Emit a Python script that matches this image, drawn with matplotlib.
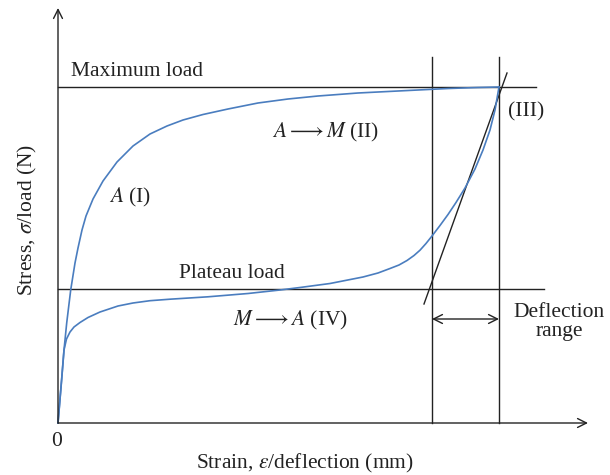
import matplotlib
matplotlib.use("Agg")
import matplotlib.pyplot as plt

plt.rcParams['font.family'] = ['Liberation Serif', 'DejaVu Serif']
plt.rcParams['mathtext.fontset'] = 'stix'

# values (schematic units, origin = 0)
load_x = [0, 3.7, 6, 8.7, 12.7, 17, 20, 24, 28, 35, 45, 59, 75, 92, 109, 125, 145, 170,
          200, 230, 260, 300, 350, 390, 420, 441]
load_y = [0, 44, 73, 100, 133, 160, 175, 193, 207, 224, 242, 261, 277, 289, 297, 303, 308.5, 314,
          320, 324, 327, 330, 332.5, 334.5, 335.5, 336]

unload_x = [441, 437, 432, 425, 417, 407, 398, 390, 382, 374, 368, 362, 356, 349, 341, 332, 320,
            305, 272, 242, 222, 190, 150, 112, 92, 75, 60, 42, 30, 22, 16, 12, 8.5, 6, 3.5, 0]
unload_y = [336, 313, 293, 273, 254, 235, 220.5, 208.5, 197.5, 187, 179.5, 172.8, 167.5, 162.5,
            158, 154.5, 150, 146, 139.5, 135.5, 133, 129.5, 126.2, 123.8, 122.3, 120, 117, 111,
            105.5, 100.5, 96, 91, 84, 73, 42, 0]

max_load = 336
plateau_load = 134
defl_left = 374
defl_right = 441
tangent_x = [366, 449]
tangent_y = [119, 350]

blue = '#4a7dbf'
ink = '#222222'

fig = plt.figure(figsize=(6.1, 4.75), dpi=100)
ax = fig.add_axes([0, 0, 1, 1])
ax.set_xlim(-58, 552)
ax.set_ylim(-52, 423)
ax.axis('off')

# axes with open arrow heads
ax.annotate('', xy=(530, 0), xytext=(0, 0),
            arrowprops=dict(arrowstyle='->', color=ink, lw=1.0, shrinkA=0, shrinkB=0,
                            mutation_scale=16))
ax.annotate('', xy=(0, 415), xytext=(0, 0),
            arrowprops=dict(arrowstyle='->', color=ink, lw=1.0, shrinkA=0, shrinkB=0,
                            mutation_scale=16))

# reference lines
ax.plot([0, 478], [max_load, max_load], color=ink, lw=1.0)
ax.plot([0, 486], [plateau_load, plateau_load], color=ink, lw=1.0)
ax.plot([defl_left, defl_left], [0, 366], color=ink, lw=1.0)
ax.plot([defl_right, defl_right], [0, 366], color=ink, lw=1.0)
ax.plot(tangent_x, tangent_y, color=ink, lw=1.0)

# curves
ax.plot(load_x, load_y, color=blue, lw=1.2, solid_joinstyle='round')
ax.plot(unload_x, unload_y, color=blue, lw=1.2, solid_joinstyle='round')

# deflection range arrow
ax.annotate('', xy=(defl_left, 104), xytext=(defl_right, 104),
            arrowprops=dict(arrowstyle='<->', color=ink, lw=1.0, shrinkA=0, shrinkB=0,
                            mutation_scale=16))

fs = 15.5
ax.text(12.7, 351, 'Maximum load', fontsize=fs, color=ink, ha='left', va='center')
ax.text(121, 150, 'Plateau load', fontsize=fs, color=ink, ha='left', va='center')
ax.text(72, 226, r'$A$ (I)', fontsize=fs, color=ink, ha='center', va='center')
ax.text(267, 291, r'$A \longrightarrow M$ (II)', fontsize=fs, color=ink, ha='center', va='center')
ax.text(468, 311, '(III)', fontsize=fs, color=ink, ha='center', va='center')
ax.text(232, 103, r'$M \longrightarrow A$ (IV)', fontsize=fs, color=ink, ha='center', va='center')
ax.text(501, 101, 'Deflection\nrange', fontsize=fs, color=ink, ha='center', va='center',
        linespacing=1.0)
ax.text(-1, -18, '0', fontsize=fs, color=ink, ha='center', va='center')
ax.text(247, -40, r'Strain, $\varepsilon$/deflection (mm)', fontsize=fs, color=ink,
        ha='center', va='center')
ax.text(-31, 203, r'Stress, $\sigma$/load (N)', fontsize=fs, color=ink,
        ha='center', va='center', rotation=90)

fig.savefig('out.png', dpi=100)
